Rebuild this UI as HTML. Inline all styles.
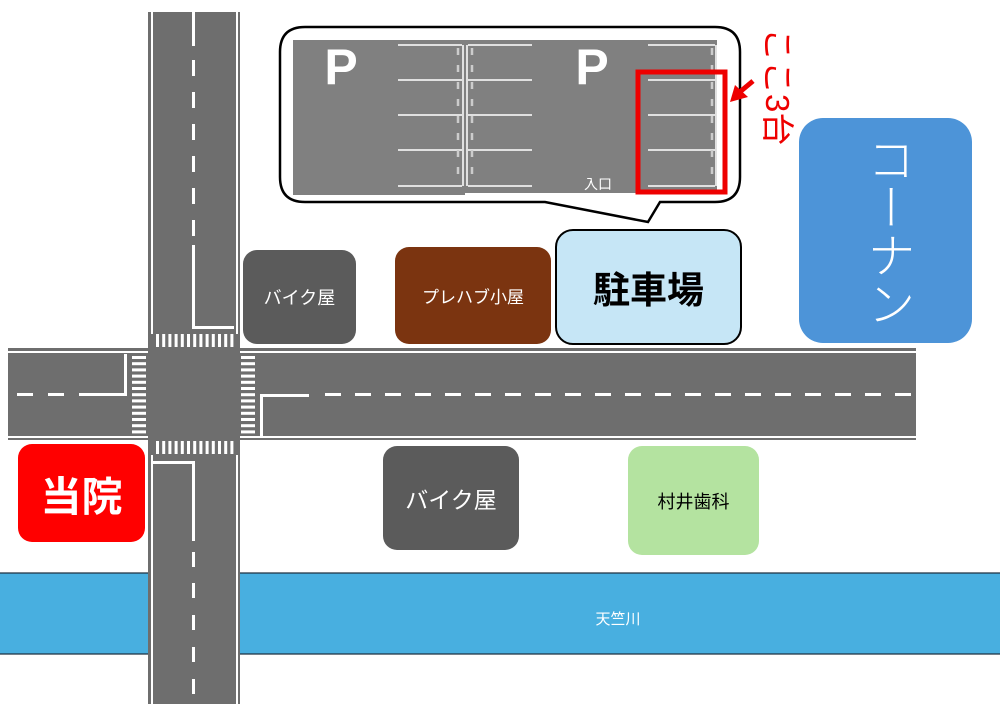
<!DOCTYPE html>
<html><head><meta charset="utf-8"><style>
body{margin:0;width:1000px;height:704px;background:#fff;overflow:hidden;position:relative;font-family:"Liberation Sans","Noto Sans CJK JP",sans-serif}
svg{position:absolute;left:0;top:0}
.b{position:absolute;display:flex;align-items:center;justify-content:center;border-radius:14px;box-sizing:border-box}
</style></head><body>
<svg width="1000" height="704" viewBox="0 0 1000 704">
<rect x="0" y="573" width="1000" height="81" fill="#48afe0"/>
<line x1="0" y1="573" x2="1000" y2="573" stroke="#1f3140" stroke-width="1.2"/>
<line x1="0" y1="654" x2="1000" y2="654" stroke="#1f3140" stroke-width="1.2"/>
<text x="618" y="624" font-size="15" fill="#fff" text-anchor="middle" font-family="Liberation Sans,Noto Sans CJK JP,sans-serif">天竺川</text>
<rect x="148" y="12" width="92" height="692" fill="#6e6e6e"/>
<rect x="151" y="12" width="2" height="322" fill="#fff"/>
<rect x="236" y="12" width="2" height="322" fill="#fff"/>
<rect x="151" y="455" width="2" height="249" fill="#fff"/>
<rect x="236" y="455" width="2" height="249" fill="#fff"/>
<g fill="#fff">
<rect x="192" y="12" width="3" height="34"/>
<rect x="192" y="60" width="3" height="16"/><rect x="192" y="92" width="3" height="16"/><rect x="192" y="124" width="3" height="16"/><rect x="192" y="156" width="3" height="16"/><rect x="192" y="188" width="3" height="16"/><rect x="192" y="220" width="3" height="16"/>
<rect x="192" y="245" width="3" height="84"/><rect x="192" y="326" width="42" height="3"/>
<rect x="153" y="461" width="41" height="3"/><rect x="192" y="461" width="3" height="80"/>
<rect x="192" y="552" width="3" height="15"/><rect x="192" y="583" width="3" height="15"/><rect x="192" y="615" width="3" height="15"/><rect x="192" y="647" width="3" height="15"/><rect x="192" y="679" width="3" height="15"/>
</g>
<rect x="8" y="348" width="908" height="92" fill="#6e6e6e"/>
<rect x="8" y="351" width="140" height="2" fill="#fff"/><rect x="8" y="436" width="140" height="2" fill="#fff"/>
<rect x="240" y="351" width="676" height="2" fill="#fff"/><rect x="240" y="436" width="676" height="2" fill="#fff"/>
<g fill="#fff">
<rect x="17" y="393" width="16" height="3"/><rect x="48" y="393" width="16" height="3"/><rect x="79" y="393" width="48" height="3"/>
<rect x="124" y="354" width="3" height="42"/>
<rect x="260" y="394" width="3" height="42"/><rect x="260" y="394" width="49" height="3"/>
</g>
<g id="dash"></g>
<rect x="148" y="348" width="92" height="92" fill="#6e6e6e"/>
<g fill="#fff" id="cw"></g>
<path d="M305,27 H715 Q740,27 740,52 V177 Q740,202 715,202 H660 L648,222 L545,202 H305 Q280,202 280,177 V52 Q280,27 305,27 Z" fill="#fff" stroke="#000" stroke-width="2.5"/>
<rect x="293" y="40" width="424" height="153" fill="#808080"/>
<rect x="293" y="190" width="172" height="5" fill="#808080"/>
<text x="341" y="84" font-size="50" font-weight="bold" fill="#fff" text-anchor="middle">P</text>
<text x="592" y="84" font-size="50" font-weight="bold" fill="#fff" text-anchor="middle">P</text>
<g stroke="#fff" stroke-width="1.5" fill="none" id="st"></g>
<text x="598" y="189" font-size="14" fill="#fff" text-anchor="middle">入口</text>
<rect x="638" y="72" width="87" height="120" fill="none" stroke="#e00" stroke-width="5"/>
<line x1="753" y1="81" x2="741" y2="91" stroke="#e00" stroke-width="5"/>
<polygon points="730,102 735,85 748,97" fill="#e00"/>
</svg>
<div style="position:absolute;left:760px;top:28px;writing-mode:vertical-rl;text-orientation:sideways;font-size:33px;color:#e00;line-height:34px;font-family:'Liberation Sans','Noto Sans CJK JP',sans-serif">ここ3台</div>
<div class="b" style="left:243px;top:250px;width:113px;height:94px;background:#5b5b5b;color:#fff;font-size:18px">バイク屋</div>
<div class="b" style="left:395px;top:247px;width:156px;height:97px;background:#7b3410;color:#fff;font-size:17px">プレハブ小屋</div>
<div class="b" style="left:555px;top:229px;width:187px;height:116px;background:#c6e6f6;border:2px solid #000;color:#000;font-size:37px;font-weight:bold;border-radius:18px">駐車場</div>
<div class="b" style="left:799px;top:118px;width:173px;height:225px;background:#4d94d8;color:#fff;border-radius:24px"><span style="writing-mode:vertical-rl;font-size:48px;line-height:50px;font-weight:300">コーナン</span></div>
<div class="b" style="left:18px;top:444px;width:127px;height:98px;background:#f00;color:#fff;font-size:41px;font-weight:bold">当院</div>
<div class="b" style="left:383px;top:446px;width:136px;height:104px;background:#5b5b5b;color:#fff;font-size:23px">バイク屋</div>
<div class="b" style="left:628px;top:446px;width:131px;height:109px;background:#b4e3a0;color:#000;font-size:18px">村井歯科</div>
<script>
var ns="http://www.w3.org/2000/svg";
function r(g,x,y,w,h){var e=document.createElementNS(ns,"rect");e.setAttribute("x",x);e.setAttribute("y",y);e.setAttribute("width",w);e.setAttribute("height",h);g.appendChild(e);}
var cw=document.getElementById("cw");
for(var x=156;x<234;x+=6.2){r(cw,x,334,3,13);r(cw,x,441,3,13);}
for(var y=356;y<434;y+=6.2){r(cw,132,y,14,3);r(cw,241,y,14,3);}
var d=document.getElementById("dash");d.setAttribute("fill","#fff");
for(var x=325;x<916;x+=30){r(d,x,393,16,3);}
var st=document.getElementById("st");
function l(x1,y1,x2,y2){var e=document.createElementNS(ns,"line");e.setAttribute("x1",x1);e.setAttribute("y1",y1);e.setAttribute("x2",x2);e.setAttribute("y2",y2);st.appendChild(e);}
var ys=[45,80,115,150,186];
ys.forEach(function(y){l(398,y,462,y);l(468,y,532,y);l(648,y,715,y);});
l(463,45,463,186);l(467,45,467,186);l(716,45,716,186);
[458,472,712].forEach(function(x){var e=document.createElementNS(ns,"line");e.setAttribute("x1",x);e.setAttribute("y1",48);e.setAttribute("x2",x);e.setAttribute("y2",184);e.setAttribute("stroke","#ccc");e.setAttribute("stroke-width","2.5");e.setAttribute("stroke-dasharray","7 10");st.appendChild(e);});
</script>
</body></html>
